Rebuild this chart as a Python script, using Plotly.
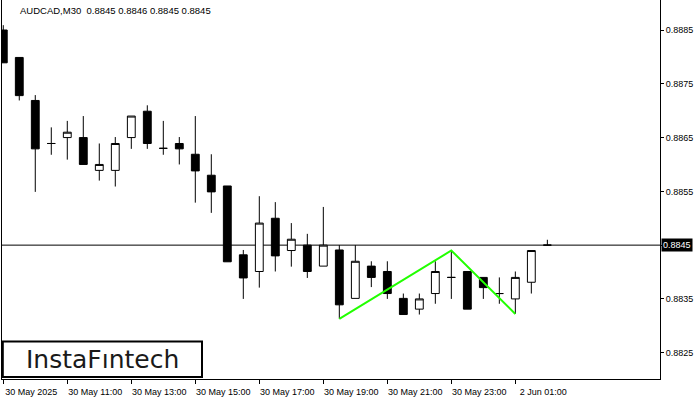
import plotly.graph_objects as go

# ---- data (AUDCAD M30) ----
idx = list(range(35))
opens = [0.88850, 0.88799, 0.88719, 0.88639, 0.88650, 0.88650, 0.88589, 0.88589, 0.88650, 0.88699,
         0.88630, 0.88639, 0.88619, 0.88580, 0.88560, 0.88432, 0.88401, 0.88500, 0.88440, 0.88450,
         0.88411, 0.88441, 0.88351, 0.88411, 0.88401, 0.88351, 0.88331, 0.88360, 0.88390, 0.88401,
         0.88390, 0.88360, 0.88350, 0.88381, 0.88450]
highs = [0.88859, 0.88799, 0.88729, 0.88669, 0.88681, 0.88690, 0.88639, 0.88651, 0.88690, 0.88710,
         0.88681, 0.88651, 0.88690, 0.88619, 0.88560, 0.88441, 0.88541, 0.88530, 0.88491, 0.88471,
         0.88521, 0.88450, 0.88450, 0.88420, 0.88420, 0.88360, 0.88360, 0.88420, 0.88440, 0.88401,
         0.88390, 0.88390, 0.88401, 0.88440, 0.88460]
lows = [0.88789, 0.88719, 0.88549, 0.88618, 0.88609, 0.88600, 0.88570, 0.88559, 0.88629, 0.88629,
        0.88618, 0.88600, 0.88529, 0.88510, 0.88419, 0.88350, 0.88371, 0.88401, 0.88410, 0.88389,
        0.88411, 0.88313, 0.88351, 0.88372, 0.88350, 0.88321, 0.88321, 0.88341, 0.88350, 0.88331,
        0.88350, 0.88341, 0.88322, 0.88360, 0.88450]
closes = [0.88789, 0.88728, 0.88629, 0.88639, 0.88660, 0.88600, 0.88600, 0.88639, 0.88690, 0.88639,
          0.88630, 0.88629, 0.88588, 0.88549, 0.88419, 0.88389, 0.88491, 0.88430, 0.88461, 0.88401,
          0.88450, 0.88339, 0.88420, 0.88390, 0.88360, 0.88321, 0.88350, 0.88401, 0.88390, 0.88331,
          0.88371, 0.88360, 0.88390, 0.88440, 0.88450]

pattern_x = [21, 28, 32]
pattern_y = [0.88313, 0.88440, 0.88322]

current_price = 0.8845
x_tick_pos = [0, 4, 8, 12, 16, 20, 24, 28, 32]
x_tick_text = ["30 May 2025", "30 May 11:00", "30 May 13:00", "30 May 15:00", "30 May 17:00",
               "30 May 19:00", "30 May 21:00", "30 May 23:00", "2 Jun 01:00"]
y_ticks = [0.8825, 0.8835, 0.8845, 0.8855, 0.8865, 0.8875, 0.8885]
y_tick_text = ["0.8825", "0.8835", "", "0.8855", "0.8865", "0.8875", "0.8885"]
title_text = "AUDCAD,M30\u00a0\u00a00.8845 0.8846 0.8845 0.8845"

FONT = "Liberation Sans, Arial, sans-serif"

fig = go.Figure()
fig.add_trace(go.Candlestick(
    x=idx, open=opens, high=highs, low=lows, close=closes,
    increasing=dict(line=dict(color="black", width=1), fillcolor="white"),
    decreasing=dict(line=dict(color="black", width=1), fillcolor="black"),
    whiskerwidth=0, showlegend=False, hoverinfo="skip",
))
fig.add_trace(go.Scatter(
    x=pattern_x, y=pattern_y, mode="lines",
    line=dict(color="#22ff00", width=2), showlegend=False, hoverinfo="skip",
))

W, H = 700, 400
L, R, T, B = 2, 40, 0, 21
pw, ph = W - L - R, H - T - B

def px_x(p):
    return (p - L) / pw

def px_y(p):
    return 1 - (p - T) / ph

fig.add_shape(type="line", xref="paper", yref="y", x0=0, x1=1, y0=current_price, y1=current_price,
              line=dict(color="black", width=1), layer="below")

# current price label
fig.add_annotation(xref="paper", yref="y", x=1, y=current_price, xanchor="left", yanchor="middle",
                   xshift=1, text="0.8845", showarrow=False, bgcolor="black",
                   font=dict(family=FONT, size=9, color="white"), borderpad=1)

# title
fig.add_annotation(xref="paper", yref="paper", x=px_x(18), y=px_y(10.5), xanchor="left",
                   yanchor="middle", text=title_text, showarrow=False,
                   font=dict(family=FONT, size=9.5, color="black"))

# logo
fig.add_shape(type="rect", xref="paper", yref="paper", x0=px_x(2.8), x1=px_x(202), y0=px_y(377),
              y1=px_y(341.5), line=dict(color="black", width=2), fillcolor="white", layer="above")
fig.add_annotation(xref="paper", yref="paper", x=px_x(102), y=px_y(359), xanchor="center",
                   yanchor="middle", text="InstaF\u0131ntech", showarrow=False,
                   font=dict(family="DejaVu Sans", size=25, color="#1a1a1a"))

fig.update_layout(
    width=W, height=H,
    margin=dict(l=L, r=R, t=T, b=B, autoexpand=False),
    paper_bgcolor="white", plot_bgcolor="white",
    font=dict(family=FONT, size=9, color="black"),
    showlegend=False,
)
fig.update_xaxes(
    range=[-0.08, 41.04], rangeslider=dict(visible=False),
    tickmode="array", tickvals=x_tick_pos, ticktext=x_tick_text,
    ticks="outside", ticklen=4, tickcolor="black", ticklabelshift=28,
    showgrid=False, zeroline=False, showline=True, linecolor="black", linewidth=1,
    tickfont=dict(family=FONT, size=9, color="black"),
)
fig.update_yaxes(
    range=[0.882011, 0.889058], side="right",
    tickmode="array", tickvals=y_ticks, ticktext=y_tick_text,
    ticks="outside", ticklen=3, tickcolor="black",
    showgrid=False, zeroline=False, showline=True, mirror=True, linecolor="black", linewidth=1,
    tickfont=dict(family=FONT, size=9, color="black"),
)

fig.write_html("out.html", config={"displayModeBar": False},
               post_script="document.body.style.margin='0';document.body.style.overflow='hidden';")
